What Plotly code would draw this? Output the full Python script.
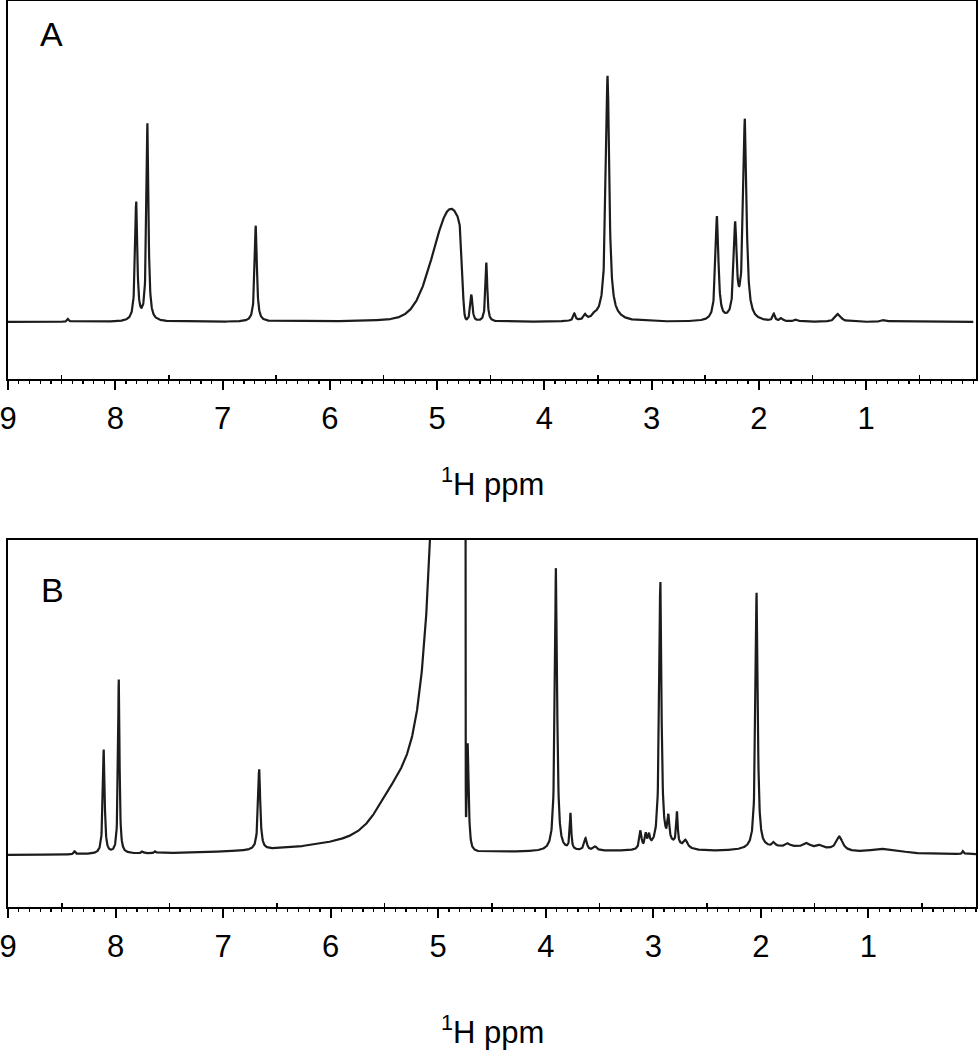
import numpy as np
import plotly.graph_objects as go

# ---------------- data ----------------
# Panel A: sharp lines (ppm, height above baseline, half-width in ppm)
A_PEAK_PPM = [8.44, 7.805, 7.70, 6.69, 4.68, 4.54, 3.72, 3.62, 3.53, 3.41,
              2.39, 2.22, 2.13, 1.86, 1.79, 1.65, 1.26, 0.83]
A_PEAK_HEIGHT = [3, 119, 197, 96, 27, 59, 7, 5, 3, 240,
                 104, 92, 200, 7, 3, 2, 8, 2]
A_PEAK_HWHM = [0.010, 0.012, 0.011, 0.012, 0.012, 0.010, 0.012, 0.015, 0.020, 0.018,
               0.016, 0.016, 0.018, 0.012, 0.015, 0.020, 0.030, 0.030]
# Panel A: broad components (water band with presaturation cut-off, base of 3.41 line)
A_BROAD_PPM = [4.87, 3.41]
A_BROAD_HEIGHT = [113, 6]
A_BROAD_HWHM = [0.20, 0.10]
A_BROAD_ETA = [0.2, 1.0]
A_BROAD_CUT = [4.763, -1.0]
A_BROAD_CUTW = [0.008, 0.001]

# Panel B: sharp lines
B_PEAK_PPM = [8.38, 8.11, 7.97, 7.75, 7.63, 6.665, 4.725, 3.905, 3.77, 3.63, 3.54,
              3.12, 3.07, 3.04, 2.935, 2.86, 2.78, 2.70, 2.04, 1.88, 1.75, 1.57,
              1.45, 1.27, 0.12]
B_PEAK_HEIGHT = [3, 104, 174, 2, 2, 81, 110, 285, 36, 12, 4,
                 18, 13, 11, 265, 24, 32, 7, 256, 4, 3, 4,
                 3, 14, 3]
B_PEAK_HWHM = [0.010, 0.010, 0.008, 0.010, 0.010, 0.012, 0.010, 0.012, 0.008, 0.015, 0.020,
               0.012, 0.010, 0.010, 0.012, 0.010, 0.008, 0.020, 0.012, 0.015, 0.020, 0.030,
               0.030, 0.035, 0.008]
# Panel B: broad components (off-scale water with cut-off, shoulder, baseline humps)
B_BROAD_PPM = [4.85, 5.42, 3.0, 1.7, 0.84, 2.85]
B_BROAD_HEIGHT = [6680, 20, 5, 5, 4, 6]
B_BROAD_HWHM = [0.05, 0.18, 2.5, 0.35, 0.15, 0.15]
B_BROAD_ETA = [1.0, 0.0, 0.0, 0.0, 0.0, 0.0]
B_BROAD_CUT = [4.748, 4.748, -1.0, -1.0, -1.0, -1.0]
B_BROAD_CUTW = [0.0012, 0.001, 0.001, 0.001, 0.001, 0.001]

MAJOR_TICKS = [9, 8, 7, 6, 5, 4, 3, 2, 1]
HALF_TICKS = [8.5, 7.5, 6.5, 5.5, 4.5, 3.5, 2.5, 1.5, 0.5]
X_TITLE = "<sup>1</sup>H ppm"

# ---------------- spectrum from the peak tables ----------------
ppm = np.arange(0.0, 9.0001, 0.002)


def line_shape(x, c, h, w, eta):
    d = ((x - c) / w) ** 2
    return h * (eta / (1.0 + d) + (1.0 - eta) * np.exp(-np.log(2.0) * d))


def spectrum(pk_ppm, pk_h, pk_w, br_ppm, br_h, br_w, br_eta, br_cut, br_cutw):
    y = np.zeros_like(ppm)
    for c, h, w in zip(pk_ppm, pk_h, pk_w):
        y += line_shape(ppm, c, h, w, 1.0)
    for c, h, w, e, cut, cw in zip(br_ppm, br_h, br_w, br_eta, br_cut, br_cutw):
        gate = 0.5 * (1.0 + np.tanh((ppm - cut) / (2.0 * cw)))
        y += line_shape(ppm, c, h, w, e) * gate
    return y


yA = spectrum(A_PEAK_PPM, A_PEAK_HEIGHT, A_PEAK_HWHM, A_BROAD_PPM, A_BROAD_HEIGHT,
              A_BROAD_HWHM, A_BROAD_ETA, A_BROAD_CUT, A_BROAD_CUTW)
yB = spectrum(B_PEAK_PPM, B_PEAK_HEIGHT, B_PEAK_HWHM, B_BROAD_PPM, B_BROAD_HEIGHT,
              B_BROAD_HWHM, B_BROAD_ETA, B_BROAD_CUT, B_BROAD_CUTW)

# ---------------- figure ----------------
W, H = 979, 1050
FONT = "Liberation Sans, Arial, Helvetica, sans-serif"
LINE = "#1c1c1c"


def py(px):
    return 1.0 - px / H


fig = go.Figure()
fig.add_trace(go.Scatter(x=ppm, y=yA, mode="lines", xaxis="x", yaxis="y",
                         line=dict(color=LINE, width=2.2), showlegend=False, hoverinfo="skip"))
fig.add_trace(go.Scatter(x=ppm, y=yB, mode="lines", xaxis="x2", yaxis="y2",
                         line=dict(color=LINE, width=2.2), showlegend=False, hoverinfo="skip"))
# helper traces so the overlay tick axes exist
fig.add_trace(go.Scatter(x=[None], y=[None], xaxis="x3", yaxis="y", showlegend=False, hoverinfo="skip"))
fig.add_trace(go.Scatter(x=[None], y=[None], xaxis="x4", yaxis="y2", showlegend=False, hoverinfo="skip"))


def main_x(rng, anchor):
    return dict(range=rng, anchor=anchor, domain=[0, 1],
                tickmode="array", tickvals=MAJOR_TICKS, ticktext=[str(t) for t in MAJOR_TICKS],
                ticks="outside", ticklen=9, tickwidth=2, tickcolor="black",
                showline=True, linewidth=2, linecolor="black", mirror=True,
                showgrid=False, zeroline=False, automargin=False,
                tickfont=dict(family=FONT, size=31, color="black"),
                ticklabelstandoff=2, ticklabeloverflow="allow",
                minor=dict(tickmode="linear", tick0=0, dtick=0.1, ticks="outside",
                           ticklen=3, tickwidth=1.2, tickcolor="black", showgrid=False))


def half_x(rng, overlay, anchor):
    return dict(range=rng, overlaying=overlay, anchor=anchor, side="bottom",
                tickmode="array", tickvals=HALF_TICKS, ticks="inside", ticklen=4,
                tickwidth=1.5, tickcolor="black", showticklabels=False,
                showline=False, showgrid=False, zeroline=False, automargin=False)


def main_y(rng, dom, anchor):
    return dict(range=rng, domain=dom, anchor=anchor, showline=True, linewidth=2,
                linecolor="black", mirror=True, ticks="", showticklabels=False,
                showgrid=False, zeroline=False, automargin=False)


rangeA = [9, -0.025]
rangeB = [9, 0]

fig.update_layout(
    width=W, height=H,
    margin=dict(l=8, r=3, t=0, b=0),
    paper_bgcolor="white", plot_bgcolor="white",
    xaxis=main_x(rangeA, "y"),
    xaxis2=main_x(rangeB, "y2"),
    xaxis3=half_x(rangeA, "x", "y"),
    xaxis4=half_x(rangeB, "x2", "y2"),
    yaxis=main_y([-57, 321], [py(379), py(1)], "x"),
    yaxis2=main_y([-51, 316], [py(907), py(540)], "x2"),
    annotations=[
        dict(text="A", xref="paper", yref="paper", x=(51 - 8) / 968, y=py(34),
             xanchor="center", yanchor="middle", showarrow=False,
             font=dict(family=FONT, size=34, color="black")),
        dict(text="B", xref="paper", yref="paper", x=(52 - 8) / 968, y=py(590),
             xanchor="center", yanchor="middle", showarrow=False,
             font=dict(family=FONT, size=34, color="black")),
        dict(text=X_TITLE, xref="paper", yref="paper", x=(492 - 8) / 968, y=py(482),
             xanchor="center", yanchor="middle", showarrow=False,
             font=dict(family=FONT, size=31, color="black")),
        dict(text=X_TITLE, xref="paper", yref="paper", x=(492 - 8) / 968, y=py(1030),
             xanchor="center", yanchor="middle", showarrow=False,
             font=dict(family=FONT, size=31, color="black")),
    ],
)

fig.write_html("out.html",
               config={"displayModeBar": False, "staticPlot": True},
               post_script="document.body.style.margin='0px';document.body.style.overflow='hidden';")
